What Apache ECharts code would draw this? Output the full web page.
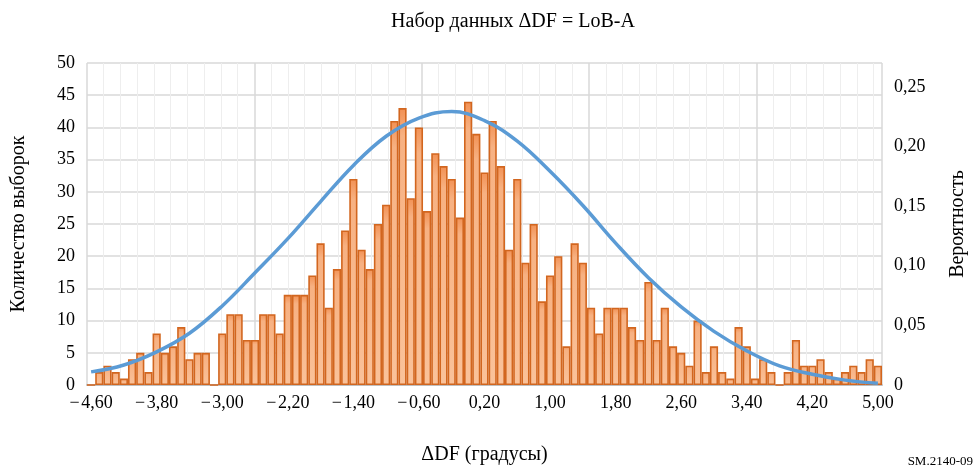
<!DOCTYPE html>
<html><head><meta charset="utf-8">
<script src="https://cdn.jsdelivr.net/npm/echarts@6/dist/echarts.min.js"></script>
<style>html,body{margin:0;padding:0;background:#fff}#c{width:976px;height:470px}</style>
</head><body><div id="c"></div>
<script>
// Bin centres (ΔDF, degrees)
const categories = [
 '-4.60','-4.50','-4.40','-4.30','-4.20','-4.10','-4.00','-3.90','-3.80','-3.70',
 '-3.60','-3.50','-3.40','-3.30','-3.20','-3.10','-3.00','-2.90','-2.80','-2.70',
 '-2.60','-2.50','-2.40','-2.30','-2.20','-2.10','-2.00','-1.90','-1.80','-1.70',
 '-1.60','-1.50','-1.40','-1.30','-1.20','-1.10','-1.00','-0.90','-0.80','-0.70',
 '-0.60','-0.50','-0.40','-0.30','-0.20','-0.10','0.00','0.10','0.20','0.30',
 '0.40','0.50','0.60','0.70','0.80','0.90','1.00','1.10','1.20','1.30',
 '1.40','1.50','1.60','1.70','1.80','1.90','2.00','2.10','2.20','2.30',
 '2.40','2.50','2.60','2.70','2.80','2.90','3.00','3.10','3.20','3.30',
 '3.40','3.50','3.60','3.70','3.80','3.90','4.00','4.10','4.20','4.30',
 '4.40','4.50','4.60','4.70','4.80','4.90','5.00'
];
// Number of samples per bin
const counts = [
 0, 2, 3, 2, 1, 4, 5, 2, 8, 5,
 6, 9, 4, 5, 5, 0, 8, 11, 11, 7,
 7, 11, 11, 8, 14, 14, 14, 17, 22, 12,
 18, 24, 32, 21, 18, 25, 28, 41, 43, 29,
 40, 27, 36, 34, 32, 26, 44, 39, 33, 41,
 34, 21, 32, 19, 25, 13, 17, 20, 6, 22,
 19, 12, 8, 12, 12, 12, 9, 7, 16, 7,
 12, 6, 5, 3, 10, 2, 6, 2, 1, 9,
 6, 1, 4, 2, 0, 2, 7, 3, 3, 4,
 2, 1, 2, 3, 2, 4, 3
];
// Probability curve, read at a subset of bins
const curveCategories = ['-4.60','-4.20','-3.80','-3.40','-3.00','-2.60','-2.20','-1.80','-1.40','-1.00',
 '-0.60','-0.20','0.20','0.60','1.00','1.40','1.80','2.20','2.60','3.00','3.40','3.80','4.20','4.60','5.00'];
const curveValues = [0.0110, 0.0168, 0.0278, 0.0434, 0.0663, 0.0941, 0.1227, 0.1538, 0.1841, 0.2086,
 0.2238, 0.2293, 0.2217, 0.2045, 0.1792, 0.1505, 0.1190, 0.0900, 0.0655, 0.0450,
 0.0286, 0.0160, 0.0090, 0.0041, 0.0014];

const titleText = 'Набор данных ΔDF = LoB-A';
const xName = 'ΔDF (градусы)';
const yLeftName = 'Количество выборок';
const yRightName = 'Вероятность';
const figId = 'SM.2140-09';

const curveData = categories.map(c => {
  const k = curveCategories.indexOf(c);
  return k >= 0 ? curveValues[k] : null;
});

const FONT = '"Liberation Serif", "DejaVu Serif", serif';
const chart = echarts.init(document.getElementById('c'), null, {renderer: 'canvas'});
chart.setOption({
  animation: false,
  backgroundColor: '#fff',
  textStyle: {fontFamily: FONT, color: '#000'},
  graphic: [{
    type: 'text', x: 513, y: 22,
    style: {text: titleText, fontFamily: FONT, fontSize: 20, fill: '#000',
      align: 'center', verticalAlign: 'middle', textAlign: 'center', textVerticalAlign: 'middle'}
  }, {
    type: 'text', right: 3, bottom: 2,
    style: {text: figId, fontFamily: FONT, fontSize: 13, fill: '#000'}
  }],
  grid: {left: 87, right: 93, top: 63, bottom: 77},
  xAxis: [{
    type: 'category', data: categories, boundaryGap: true,
    name: xName, nameLocation: 'middle', nameGap: 60,
    nameTextStyle: {fontFamily: FONT, fontSize: 20, color: '#000'},
    axisLine: {show: true, lineStyle: {color: '#bfbfbf', width: 2}},
    axisTick: {show: false},
    axisLabel: {interval: 7, margin: 9, fontFamily: FONT, fontSize: 18, color: '#000',
      formatter: v => v.replace('-', '\u2212\u200a').replace('.', ',')},
    splitLine: {show: false}
  }, {
    type: 'value', min: 0, max: 47.5, interval: 10, position: 'top',
    axisLine: {show: false}, axisTick: {show: false}, axisLabel: {show: false},
    splitLine: {show: true, lineStyle: {color: '#d9d9d9', width: 1.5}},
    minorTick: {show: false, splitNumber: 10},
    minorSplitLine: {show: true, lineStyle: {color: '#eeeeee', width: 1}}
  }],
  yAxis: [{
    type: 'value', min: 0, max: 50, interval: 5,
    name: yLeftName, nameLocation: 'middle', nameGap: 58, nameRotate: 90,
    nameTextStyle: {fontFamily: FONT, fontSize: 20, color: '#000'},
    axisLine: {show: false}, axisTick: {show: false},
    axisLabel: {margin: 12, fontFamily: FONT, fontSize: 18, color: '#000'},
    splitLine: {show: true, lineStyle: {color: '#d9d9d9', width: 1.5}}
  }, {
    type: 'value', min: 0, max: 0.27, interval: 0.05,
    name: yRightName, nameLocation: 'middle', nameGap: 66, nameRotate: 90,
    nameTextStyle: {fontFamily: FONT, fontSize: 20, color: '#000'},
    axisLine: {show: false}, axisTick: {show: false},
    axisLabel: {margin: 12, fontFamily: FONT, fontSize: 18, color: '#000', showMaxLabel: false,
      formatter: v => (v === 0 ? '0' : (Math.round(v * 100) / 100).toFixed(2).replace('.', ','))},
    splitLine: {show: false}
  }],
  series: [{
    type: 'bar', data: counts, xAxisIndex: 0, yAxisIndex: 0,
    barCategoryGap: '0%', barGap: '0%', barWidth: '100%',
    itemStyle: {
      color: {type: 'linear', x: 0, y: 0, x2: 0, y2: 1, colorStops: [
        {offset: 0, color: '#f29154'}, {offset: 0.1, color: '#f7b182'}, {offset: 1, color: '#fac29a'}]},
      borderColor: '#d2661f', borderWidth: 1.6
    },
    z: 2
  }, {
    type: 'line', data: curveData, xAxisIndex: 0, yAxisIndex: 1,
    connectNulls: true, smooth: 0.4, showSymbol: false, symbol: 'none',
    lineStyle: {color: '#5b9bd5', width: 3.5},
    z: 3
  }]
});
</script>
</body></html>
